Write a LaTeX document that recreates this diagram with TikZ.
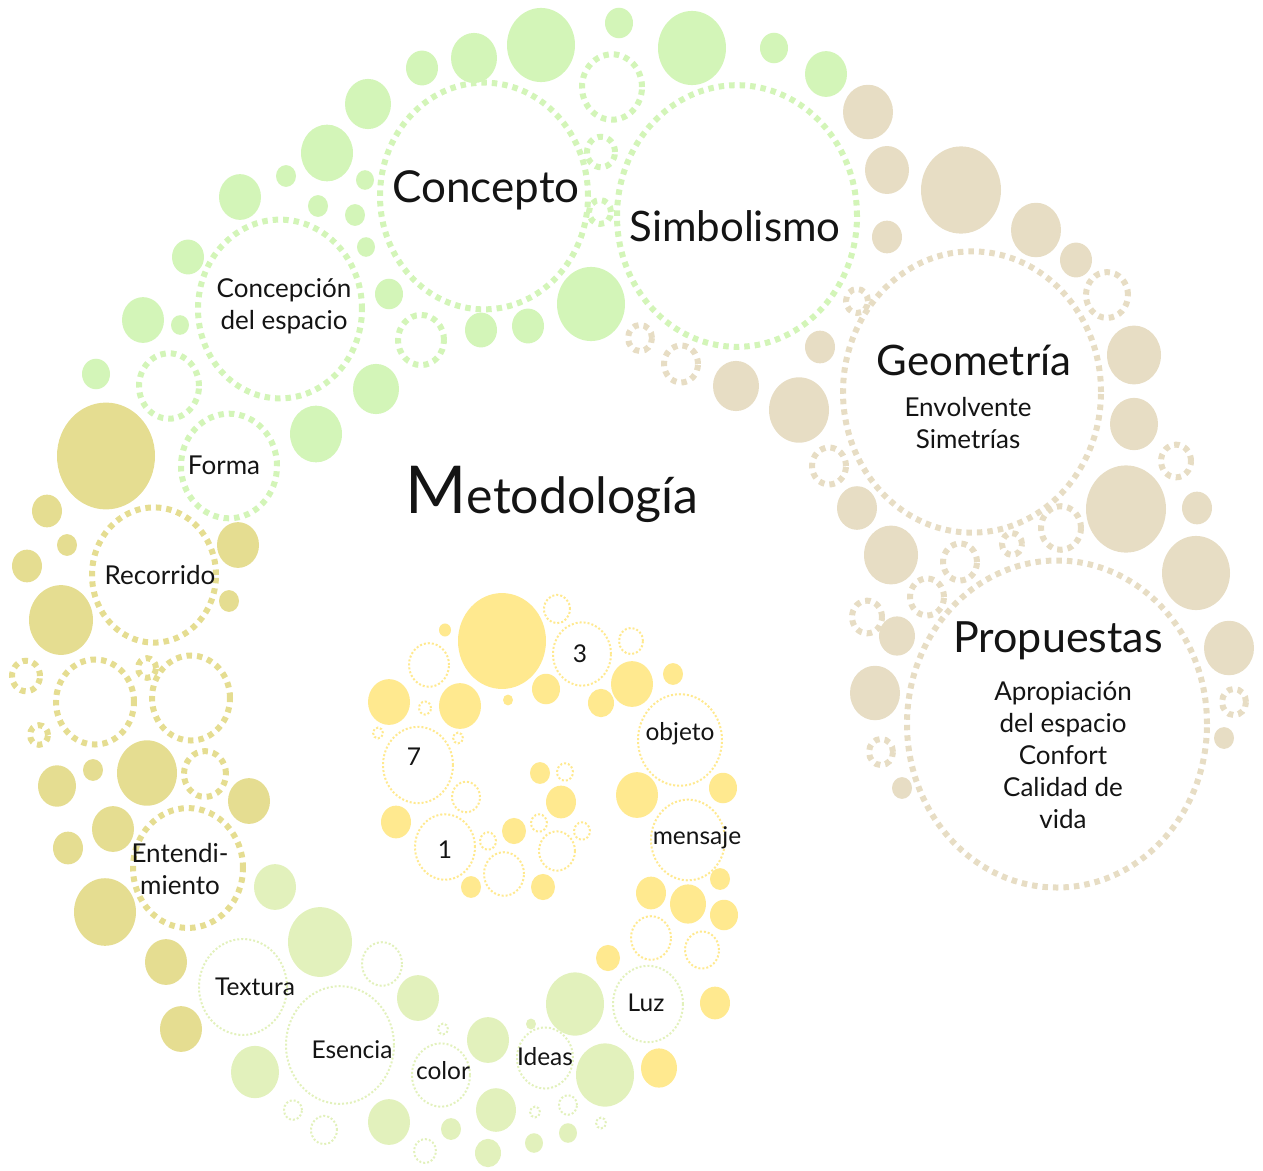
\documentclass[tikz,border=0pt]{standalone}
\usepackage{fontspec}
\setmainfont{Lato}
\definecolor{grn}{RGB}{211,245,184}
\definecolor{tanc}{RGB}{231,221,196}
\definecolor{olv}{RGB}{229,221,145}
\definecolor{yel}{RGB}{255,233,143}
\definecolor{pgr}{RGB}{226,241,188}
\definecolor{txt}{RGB}{20,20,20}
\newcommand\fs[1]{\fontsize{#1}{#1}\selectfont}
\newcommand\fsb[2]{\fontsize{#1}{#2}\selectfont}
\begin{document}
\begin{tikzpicture}[x=1pt,y=-1pt,
  thickring/.style={line width=6pt,dash pattern=on 5.5pt off 5pt},
  thinring/.style={line width=2pt,dash pattern=on 2pt off 2pt},
  lbl/.style={text=txt,inner sep=0pt,align=center},
  big/.style={lbl,font=\fs{44}},
  mid/.style={lbl,font=\fsb{26}{32}},
  sml/.style={lbl,font=\fs{24.5}}]
\useasboundingbox (0,0) rectangle (1263,1170);
\def\ra{1.09}
% ---------- green top filled
\foreach \x/\y/\r in {541/45/34, 474/58/23, 422/68/16, 619/23/14, 692/48/34, 774/48/14, 826/74/21,
  368/104/23, 327/153/26, 286/176/10, 365/180/9, 240/197/21, 318/206/10, 355/215/10, 366/247/9,
  188/257/16, 389/294/14, 143/320/21, 180/325/9, 481/330/16, 528/326/16, 591/304/34, 376/389/23,
  96/374/14, 316/434/26}
  \fill[grn] (\x,\y) ellipse [x radius=\r*1pt, y radius=\r*\ra pt];
\foreach \x/\y/\r in {484/196/104, 737/216/120, 612/87/30, 601/152/14, 600/212/11, 169/386/30,
  421/340/23, 280/309/82, 229/466/48}
  \draw[grn,thickring] (\x,\y) ellipse [x radius=\r*1pt, y radius=\r*\ra pt];
% ---------- tan filled
\foreach \x/\y/\r in {868/112/25, 887/170/22, 961/190/40, 1036/230/25, 887/237/15, 1076/260/16,
  820/347/15, 736/386/23, 799/410/30, 1134/355/27, 1134/424/24, 1126/509/40, 857/508/20,
  1197/508/15, 891/555/27, 1196/573/34, 897/636/18, 1229/648/25, 875/693/25, 1224/738/10, 902/788/10}
  \fill[tanc] (\x,\y) ellipse [x radius=\r*1pt, y radius=\r*\ra pt];
\foreach \x/\y/\r in {972/392/129, 1057/724/150, 1107/295/21, 1176/461/15, 857/301/11, 640/338/12,
  681/364/17, 829/466/17, 960/562/17, 927/597/17, 867/617/15, 1061/528/20, 1012/544/10,
  1234/702/12, 881/752/12}
  \draw[tanc,thickring] (\x,\y) ellipse [x radius=\r*1pt, y radius=\r*\ra pt];
% ---------- olive filled
\foreach \x/\y/\r in {106/456/49, 47/511/15, 67/545/10, 238/545/21, 27/566/15, 229/601/10,
  61/620/32, 93/770/10, 147/773/30, 57/786/19, 249/801/21, 113/829/21, 68/848/15, 105/912/31,
  166/962/21, 181/1029/21}
  \fill[olv] (\x,\y) ellipse [x radius=\r*1pt, y radius=\r*\ra pt];
\foreach \x/\y/\r in {154/575/62, 95/702/39, 191/698/39, 26/676/14, 147/668/9, 39/735/9,
  205/774/21, 188/868/55}
  \draw[olv,thickring] (\x,\y) ellipse [x radius=\r*1pt, y radius=\r*\ra pt];
% ---------- yellow inner spiral
\foreach \x/\y/\r in {502/641/44, 445/630/6, 389/702/21, 460/706/21, 508/700/5, 546/689/14,
  601/703/13, 632/684/21, 673/674/10, 637/795/21, 723/788/14, 396/822/15, 540/773/10,
  561/802/15, 514/831/12, 471/887/10, 543/887/12, 651/893/15, 688/904/18, 720/879/10,
  724/915/14, 608/958/12, 715/1003/15, 659/1068/18}
  \fill[yel] (\x,\y) ellipse [x radius=\r*1pt, y radius=\r*\ra pt];
\foreach \x/\y/\r in {582/654/29, 557/609/13, 631/641/12, 429/665/20, 425/708/6, 378/733/5,
  458/738/5, 418/765/35, 466/797/14, 680/740/42, 688/840/37, 565/772/8, 539/823/8, 582/831/8,
  445/847/30, 488/841/8, 504/874/20, 557/851/18, 651/938/20, 702/950/17}
  \draw[yel,thinring] (\x,\y) ellipse [x radius=\r*1pt, y radius=\r*\ra pt];
% ---------- pale green bottom
\foreach \x/\y/\r in {275/887/21, 320/942/32, 418/998/21, 255/1072/24, 389/1122/21, 488/1040/21,
  531/1024/5, 575/1004/29, 605/1075/29, 496/1110/20, 451/1129/10, 488/1153/13, 534/1143/9, 568/1133/9}
  \fill[pgr] (\x,\y) ellipse [x radius=\r*1pt, y radius=\r*\ra pt];
\foreach \x/\y/\r in {243/987/44, 340/1045/54, 382/964/20, 443/1029/5, 441/1075/29, 545/1058/28,
  648/1004/35, 293/1110/9, 324/1130/13, 425/1151/11, 535/1112/5, 568/1105/9, 601/1123/5}
  \draw[pgr,thinring] (\x,\y) ellipse [x radius=\r*1pt, y radius=\r*\ra pt];
% ---------- labels
\node[big] (concepto) at (486,190) {Concepto};
\node[big,font=\fs{42}] (simb) at (735,226) {Simbolismo};
\node[big,font=\fs{42}] (geo) at (974,360) {Geometría};
\node[mid] (geosub) at (968,423) {Envolvente\\Simetrías};
\node[big,font=\fs{43}] (prop) at (1058,641) {Propuestas};
\node[mid] (propsub) at (1063,755) {Apropiación\\del espacio\\Confort\\Calidad de\\vida};
\node[lbl] (met) at (552,494) {{\fs{66}M}{\fs{50}etodología}};
\node[mid] (concep) at (284,306) {Concepción\\del espacio};
\node[mid] (forma) at (224,465) {Forma};
\node[mid] (reco) at (160,575) {Recorrido};
\node[mid] (ent) at (180,869) {Entendi-\\miento};
\node[sml] (n3) at (580,654) {3};
\node[sml] (n7) at (414,757) {7};
\node[sml] (n1) at (445,850) {1};
\node[sml] (obj) at (680,734) {objeto};
\node[sml] (mens) at (697,838) {mensaje};
\node[sml] (text) at (255,987) {Textura};
\node[sml] (esen) at (352,1050) {Esencia};
\node[sml] (color) at (443,1071) {color};
\node[sml] (ideas) at (545,1057) {Ideas};
\node[sml] (luz) at (646,1003) {Luz};
\end{tikzpicture}
\end{document}
